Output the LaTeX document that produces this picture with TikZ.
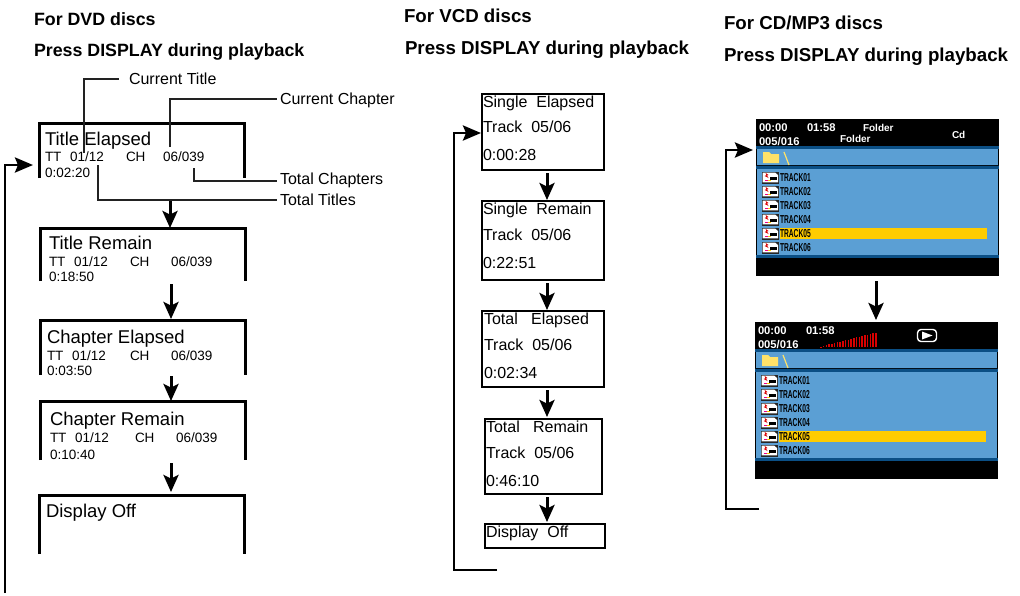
\documentclass[tikz,border=0pt]{standalone}
\usepackage{fontspec}
\setmainfont{Liberation Sans}
\usetikzlibrary{arrows.meta}
\definecolor{scrblue}{HTML}{5B9FD4}
\definecolor{scrdark}{HTML}{0B4F85}
\definecolor{hilite}{HTML}{FFCC00}
\definecolor{foldery}{HTML}{FFE268}
\definecolor{leadc}{HTML}{222222}
\newcommand{\fs}[1]{\fontsize{#1}{#1}\selectfont}
\tikzset{
  x=1pt,y=-1pt,
  txt/.style={inner sep=0pt,outer sep=0pt,anchor=base west,text=black},
  head/.style={txt,font=\bfseries\fs{#1}},
  ttl/.style={txt,font=\fs{18.5}},
  sm/.style={txt,font=\fs{13.5}},
  lab/.style={txt,font=\fs{16}},
  vc/.style={txt,font=\fs{16}},
  hd/.style={txt,text=white,font=\bfseries\fs{#1}},
  trk/.style={txt,font=\bfseries\fs{11.5}},
  thick3/.style={line width=3pt,black,line cap=butt},
  arr/.style={line width=3pt,black,-{Stealth[length=17pt,width=15pt,inset=3.5pt]}},
  loopline/.style={line width=2.8pt,black,-{Stealth[length=18pt,width=15pt,inset=3pt]}},
  leadl/.style={line width=1.2pt,leadc},
  vbox/.style={line width=2pt,black,fill=none},
}
\newcommand{\dvdbox}[5]{%
  \coordinate (#1nw) at (#2,#3);\coordinate (#1ne) at (#4,#3);
  \coordinate (#1sw) at (#2,#5);\coordinate (#1se) at (#4,#5);
  \draw[thick3,line join=miter] (#1sw) -- (#1nw) -- (#1ne) -- (#1se);}
\newcommand{\vcdbox}[5]{%
  \coordinate (#1nw) at (#2,#3);\coordinate (#1se) at (#4,#5);
  \draw[vbox] (#1nw) rectangle (#1se);}
\newcommand{\dvdtext}[9]{%
  \node[ttl] (#1t) at (#2,#3) {#6};
  \node[sm]  (#1a) at (#2,#4) {TT};
  \node[sm]  (#1b) at ({#2+25},#4) {01/12};
  \node[sm]  (#1c) at ({#2+#8},#4) {CH};
  \node[sm]  (#1d) at ({#2+#9},#4) {06/039};
  \node[sm]  (#1e) at (#2,#5) {#7};}
\newcommand{\vcdtext}[7]{%
  \node[vc] (#1a) at (#2,#3) {#6};
  \node[vc] (#1b) at (#2,#4) {Track\ \ 05/06};
  \node[vc] (#1c) at (#2,#5) {#7};}
\newcommand{\trackrow}[3]{%
  \begin{scope}[shift={(6,#2)}]
    \fill[black!85] (-.5,-6.5) rectangle (17,5.5);
    \fill[white] (.7,-5.5) -- (13,-5.5) -- (16,-3) -- (16,4.4) -- (.7,4.4) -- cycle;
    \fill[red!85!black] (3.5,-5.2) -- (6.5,-3) -- (5,-2.6) -- (6.5,0) -- (2.6,-2) -- (4.4,-2.8) -- cycle;
    \fill[black] (8,-1) rectangle (15,2.2);
    \fill[hilite] (6,1.8) rectangle (9,3.4);
    \fill[magenta] (3,1.8) rectangle (6,3.4);
  \end{scope}
  \node[trk] (#1) at (24,{#2+3.8}) {\fontspec[FakeStretch=0.58]{Liberation Sans}\bfseries #3};}
\newcommand{\screenbody}[1]{%
  \fill[black] (0,0) rectangle (243,157);
  \fill[scrdark] (0,27) rectangle (243,30);
  \fill[scrblue] (1,30) rectangle (242,46);
  \fill[black!80!scrdark] (0,46) rectangle (243,47);
  \fill[scrdark] (0,47) rectangle (243,50);
  \fill[scrblue] (1,50) rectangle (242,136);
  \fill[scrdark] (0,136) rectangle (243,139);
  \fill[foldery] (7,33) -- (13,33) -- (15,35) -- (23,35) -- (23,44) -- (7,44) -- cycle;
  \draw[foldery,line width=1.2pt] (28,33) -- (33,46);
  \fill[hilite] (24,109) rectangle (231,120);
  \trackrow{#1ta}{59}{TRACK01}
  \trackrow{#1tb}{73}{TRACK02}
  \trackrow{#1tc}{87}{TRACK03}
  \trackrow{#1td}{101}{TRACK04}
  \trackrow{#1te}{115}{TRACK05}
  \trackrow{#1tf}{129}{TRACK06}
  \node[hd=11.2] (#1h1) at (3,12) {00:00};
  \node[hd=11.2] (#1h2) at (51,12) {01:58};
  \node[hd=11.2] (#1h3) at (3,26) {005/016};}
\begin{document}
\begin{tikzpicture}
\useasboundingbox (0,0) rectangle (1020,595);
\node[head=17.8] (h1a) at (34,25) {For DVD discs};
\node[head=17.8] (h1b) at (34,56) {Press DISPLAY during playback};
\node[head=18.7] (h2a) at (404,22) {For VCD discs};
\node[head=18.7] (h2b) at (405,54) {Press DISPLAY during playback};
\node[head=18.7] (h3a) at (724,29) {For CD/MP3 discs};
\node[head=18.7] (h3b) at (724,61) {Press DISPLAY during playback};
\dvdbox{d1}{39}{123}{244}{178}
\dvdbox{d2}{40}{228}{245}{281}
\dvdbox{d3}{40}{320}{245}{375}
\dvdbox{d4}{40}{401}{245}{460}
\dvdbox{d5}{39}{495}{244}{554}
\dvdtext{d1x}{45}{145}{161}{177}{Title Elapsed}{0:02:20}{81}{118}
\dvdtext{d2x}{49}{249}{266}{281}{Title Remain}{0:18:50}{81}{122}
\dvdtext{d3x}{47}{343}{360}{375}{Chapter Elapsed}{0:03:50}{83}{124}
\dvdtext{d4x}{50}{425}{442}{459}{Chapter Remain}{0:10:40}{85}{126}
\node[ttl] (d5t) at (46,517) {Display Off};
\coordinate (a1s) at (170,201);\coordinate (a1e) at (170,228);
\coordinate (a2s) at (171,284);\coordinate (a2e) at (171,319);
\coordinate (a3s) at (171,376);\coordinate (a3e) at (171,401);
\coordinate (a4s) at (171,463);\coordinate (a4e) at (171,492);
\draw[arr] (a1s) -- (a1e);
\draw[arr] (a2s) -- (a2e);
\draw[arr] (a3s) -- (a3e);
\draw[arr] (a4s) -- (a4e);
\coordinate (l1a) at (5,593);\coordinate (l1b) at (5,165);\coordinate (l1c) at (33,165);
\draw[loopline,line join=miter] (l1a) -- (l1b) -- (l1c);
\node[lab] (cT) at (129,84) {Current Title};
\node[lab] (cC) at (280,104) {Current Chapter};
\node[lab] (tC) at (280,184) {Total Chapters};
\node[lab] (tT) at (280,205) {Total Titles};
\coordinate (p1) at (84,153);\coordinate (p1k) at (84,79);\coordinate (p1e) at (119,79);
\coordinate (p2) at (170,147);\coordinate (p2k) at (170,99);\coordinate (p2e) at (277,99);
\coordinate (p3) at (194,168);\coordinate (p3k) at (194,181);\coordinate (p3e) at (277,181);
\coordinate (p4) at (98,165);\coordinate (p4k) at (98,200);\coordinate (p4e) at (277,200);
\draw[leadl] (p1) -- (p1k) -- (p1e);
\draw[leadl] (p2) -- (p2k) -- (p2e);
\draw[leadl] (p3) -- (p3k) -- (p3e);
\draw[leadl] (p4) -- (p4k) -- (p4e);
\vcdbox{v1}{482}{94}{604}{170}
\vcdbox{v2}{482}{201}{604}{280}
\vcdbox{v3}{482}{311}{604}{387}
\vcdbox{v4}{485}{419}{602}{494}
\vcdbox{v5}{485}{524}{605}{548}
\vcdtext{v1x}{483}{107}{132}{160}{Single\ \ Elapsed}{0:00:28}
\vcdtext{v2x}{483}{214}{240}{268}{Single\ \ Remain}{0:22:51}
\vcdtext{v3x}{484}{324}{350}{378}{Total\ \ \ Elapsed}{0:02:34}
\vcdtext{v4x}{486}{432}{458}{486}{Total\ \ \ Remain}{0:46:10}
\node[vc] (v5t) at (486,537) {Display\ \ Off};
\coordinate (b1s) at (547,173);\coordinate (b1e) at (547,200);
\coordinate (b2s) at (547,283);\coordinate (b2e) at (547,310);
\coordinate (b3s) at (547,390);\coordinate (b3e) at (547,417);
\coordinate (b4s) at (547,497);\coordinate (b4e) at (547,522);
\draw[arr] (b1s) -- (b1e);
\draw[arr] (b2s) -- (b2e);
\draw[arr] (b3s) -- (b3e);
\draw[arr] (b4s) -- (b4e);
\coordinate (l2a) at (497,570);\coordinate (l2b) at (454,570);\coordinate (l2c) at (454,133);\coordinate (l2d) at (481,133);
\draw[loopline,line join=miter] (l2a) -- (l2b) -- (l2c) -- (l2d);
\begin{scope}[shift={(756,119)}]
  \screenbody{s1}
  \node[hd=10] (s1f1) at (107,12) {Folder};
  \node[hd=10] (s1f2) at (84,23) {Folder};
  \node[hd=10] (s1cd) at (196,19) {Cd};
\end{scope}
\begin{scope}[shift={(755,322)}]
  \screenbody{s2}
  \foreach \i in {0,...,20}{
    \fill[red!85!black] ({65+\i*2.75},25) rectangle ({66.6+\i*2.75},{25-0.7*\i-.5});
  }
  \draw[white,line width=1.4pt,rounded corners=3.5pt] (162.5,7.5) rectangle (181.5,19.5);
  \fill[white] (167,9.5) -- (177.5,13.5) -- (167,17.5) -- cycle;
\end{scope}
\coordinate (c1s) at (876,281);\coordinate (c1e) at (876,320);
\draw[arr] (c1s) -- (c1e);
\coordinate (l3a) at (759,509);\coordinate (l3b) at (726,509);\coordinate (l3c) at (726,150);\coordinate (l3d) at (753,150);
\draw[loopline,line join=miter] (l3a) -- (l3b) -- (l3c) -- (l3d);
\end{tikzpicture}
\end{document}
